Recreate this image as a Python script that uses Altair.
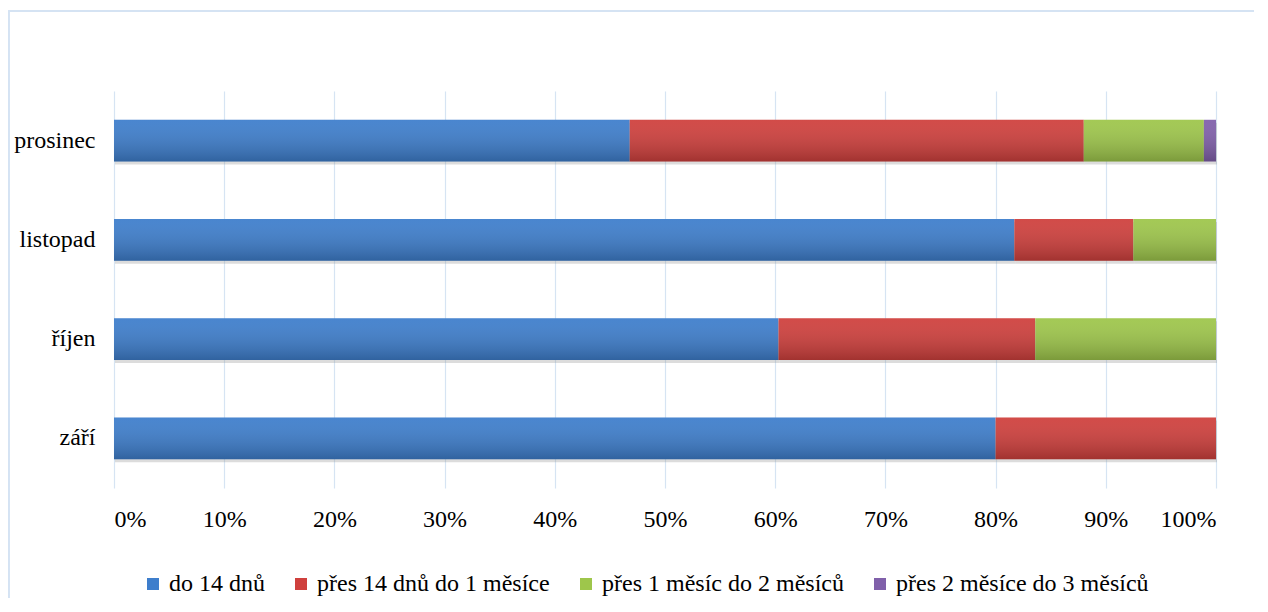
import altair as alt
import pandas as pd

months = ["září", "říjen", "listopad", "prosinec"]
month_order = ["prosinec", "listopad", "říjen", "září"]
series = [
    "do 14 dnů",
    "přes 14 dnů do 1 měsíce",
    "přes 1 měsíc do 2 měsíců",
    "přes 2 měsíce do 3 měsíců",
]
do_14_dnu = [80.0, 60.3, 81.7, 46.8]
pres_14_dnu = [20.0, 23.3, 10.8, 41.2]
pres_1_mesic = [0.0, 16.4, 7.5, 10.9]
pres_2_mesice = [0.0, 0.0, 0.0, 1.1]
colors = ["#3E7ECC", "#CF403D", "#9EC64B", "#8060AA"]
tick_values = [0, 0.1, 0.2, 0.3, 0.4, 0.5, 0.6, 0.7, 0.8, 0.9, 1.0]

values_by_series = [do_14_dnu, pres_14_dnu, pres_1_mesic, pres_2_mesice]
rows = []
for si, (name, vals) in enumerate(zip(series, values_by_series)):
    for m, v in zip(months, vals):
        rows.append({"month": m, "series": name, "idx": si, "value": v})
df = pd.DataFrame(rows)

FONT = "'Liberation Serif', 'Times New Roman', 'DejaVu Serif', serif"
FS = 24

y_enc = alt.Y(
    "month:N",
    sort=month_order,
    scale=alt.Scale(paddingInner=0.58, paddingOuter=0.29),
    axis=alt.Axis(
        title=None, domain=False, ticks=False, grid=False,
        labelFont=FONT, labelFontSize=FS, labelColor="#000000", labelPadding=19,
    ),
)

x_enc = alt.X(
    "value:Q",
    stack="normalize",
    scale=alt.Scale(domain=[0, 1], nice=False),
    axis=alt.Axis(
        title=None, domain=False, ticks=False, grid=True,
        gridColor="#D6E4F3", gridWidth=1.2, values=tick_values, format=".0%",
        labelFont=FONT, labelFontSize=FS, labelColor="#000000", labelPadding=19,
    ),
)

base = alt.Chart(df)

shadow = base.mark_bar(color="#9a9a9a", opacity=0.35, yOffset=3, xOffset=1).encode(
    x=alt.X("value:Q", stack="normalize"),
    y=alt.Y("month:N", sort=month_order),
    detail="series:N",
    order=alt.Order("idx:Q"),
)

bars = base.mark_bar().encode(
    x=x_enc,
    y=y_enc,
    color=alt.Color(
        "series:N",
        scale=alt.Scale(domain=series, range=colors),
        legend=alt.Legend(
            title=None, orient="none", direction="horizontal",
            legendX=27, legendY=481,
            symbolType="square", symbolSize=144, symbolStrokeWidth=0,
            labelFont=FONT, labelFontSize=FS, labelColor="#000000",
            labelOffset=4, columnPadding=24, labelLimit=400,
        ),
    ),
    order=alt.Order("idx:Q"),
)

gradient = {
    "gradient": "linear", "x1": 0, "y1": 0, "x2": 0, "y2": 1,
    "stops": [
        {"offset": 0, "color": "rgba(255,255,255,0.06)"},
        {"offset": 1, "color": "rgba(0,0,0,0.22)"},
    ],
}
overlay = base.mark_bar(color=gradient).encode(
    x=alt.X("value:Q", stack="normalize"),
    y=alt.Y("month:N", sort=month_order),
    detail="series:N",
    order=alt.Order("idx:Q"),
)

border_top = base.mark_rule(color="#D5E3F3", strokeWidth=2).encode(
    x=alt.value(-105.5), x2=alt.value(1140), y=alt.value(-80)
)
border_left = base.mark_rule(color="#D5E3F3", strokeWidth=2).encode(
    x=alt.value(-105.5), y=alt.value(-80), y2=alt.value(510)
)

chart = alt.layer(shadow, bars, overlay, border_top, border_left).properties(
    width=1102,
    height=397,
    padding={"left": 106, "top": 83, "right": 38, "bottom": 110},
    autosize=alt.AutoSizeParams(type="none"),
    background="white",
).configure(font=FONT).configure_view(stroke=None)

chart.save("out.html", embed_options={"renderer": "svg", "actions": False})
